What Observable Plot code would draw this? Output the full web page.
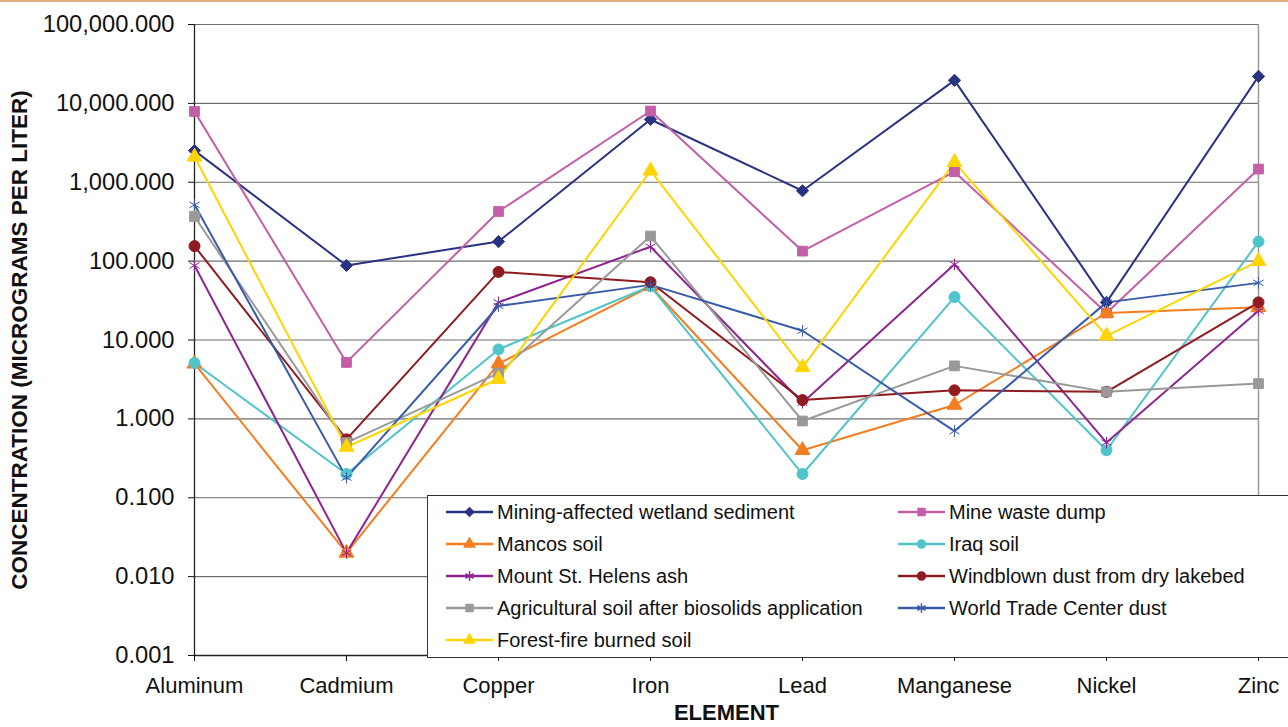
<!DOCTYPE html>
<html><head><meta charset="utf-8">
<script src="https://cdn.jsdelivr.net/npm/d3@7"></script>
<script src="https://cdn.jsdelivr.net/npm/@observablehq/plot@0.6"></script>
<style>
html,body{margin:0;padding:0;background:#fff;overflow:hidden;}
#wrap{position:relative;width:1288px;height:727px;font-family:"Liberation Sans",Arial,sans-serif;}
#bar{position:absolute;left:0;top:0;width:1288px;height:2px;background:#DFAA7E;}
#legend{position:absolute;left:427px;top:495px;width:900px;height:163px;border:1px solid #333;background:#fff;box-sizing:border-box;}
.item{position:absolute;height:32px;width:440px;}
.item svg{position:absolute;top:6px;}
.item span{position:absolute;top:0;line-height:32px;font-size:20px;white-space:nowrap;color:#111;}
</style></head><body>
<div id="wrap"><div id="chart"></div><div id="bar"></div><div id="legend"></div></div>
<script>
const elements = ["Aluminum","Cadmium","Copper","Iron","Lead","Manganese","Nickel","Zinc"];
const seriesNames = [
  "Mining-affected wetland sediment",
  "Mine waste dump",
  "Mancos soil",
  "Iraq soil",
  "Mount St. Helens ash",
  "Windblown dust from dry lakebed",
  "Agricultural soil after biosolids application",
  "World Trade Center dust",
  "Forest-fire burned soil"
];
const miningWetland    = [2520, 88, 177, 6250, 780, 19600, 30, 22000];
const mineWasteDump    = [7900, 5.2, 426, 8000, 134, 1360, 22, 1470];
const mancosSoil       = [5.0, 0.020, 5.0, 48, 0.40, 1.5, 22, 26];
const iraqSoil         = [5.1, 0.20, 7.6, 48, 0.20, 35, 0.40, 177];
const mountStHelensAsh = [88, 0.020, 30, 152, 1.6, 91, 0.50, 23.5];
const windblownDust    = [155, 0.55, 73, 54, 1.73, 2.3, 2.2, 30];
const agriculturalSoil = [368, 0.50, 3.8, 208, 0.94, 4.7, 2.2, 2.8];
const wtcDust          = [517, 0.18, 27, 50, 13.1, 0.70, 30, 53];
const forestFireSoil   = [2100, 0.44, 3.2, 1400, 4.5, 1790, 11.3, 100];
const yTicks = [0.001, 0.01, 0.1, 1, 10, 100, 1000, 10000, 100000];
const seriesColors = ["#2A3382","#C45EA6","#F47D20","#4FC4CA","#8E2590","#8F1A1F","#999999","#3A5BA8","#FFD400"];
const seriesSymbols = ["diamond2","square","triangle","circle","asterisk","circle","square","asterisk","triangle"];

const seriesValues = [miningWetland, mineWasteDump, mancosSoil, iraqSoil, mountStHelensAsh, windblownDust, agriculturalSoil, wtcDust, forestFireSoil];
const data = seriesNames.flatMap((s, i) => elements.map((e, j) => ({series: s, element: e, value: seriesValues[i][j]})));

const chart = Plot.plot({
  width: 1288, height: 727,
  marginLeft: 194, marginRight: 30, marginTop: 24, marginBottom: 72,
  style: {fontFamily: '"Liberation Sans", Arial, sans-serif', background: "#fff", color: "#111"},
  x: {type: "point", domain: elements, padding: 0},
  y: {type: "log", domain: [yTicks[0], yTicks[yTicks.length - 1]]},
  color: {domain: seriesNames, range: seriesColors},
  symbol: {domain: seriesNames, range: seriesSymbols},
  marks: [
    Plot.ruleY(yTicks, {stroke: "#6e6e6e", strokeWidth: 1.2}),
    Plot.ruleX([elements[elements.length - 1]], {stroke: "#9a9a9a", strokeWidth: 1.5}),
    Plot.ruleX([elements[0]], {stroke: "#222", strokeWidth: 1.3}),
    Plot.ruleY([yTicks[0]], {stroke: "#222", strokeWidth: 1.3}),
    Plot.axisY({ticks: yTicks, tickFormat: d3.format(",.3f"), tickSize: 6, tickPadding: 14, fontSize: 23.7, label: null}),
    Plot.axisY({ticks: [], label: "CONCENTRATION (MICROGRAMS PER LITER)", labelAnchor: "center", labelOffset: 183, labelArrow: "none", fontSize: 22.5, fontWeight: "bold"}),
    Plot.axisX({tickSize: 6, tickPadding: 16, fontSize: 22, label: null}),
    Plot.axisX({ticks: [], label: "ELEMENT", labelAnchor: "center", labelOffset: 64, labelArrow: "none", fontSize: 22, fontWeight: "bold"}),
    Plot.line(data, {x: "element", y: "value", z: "series", stroke: "series", strokeWidth: 2}),
    Plot.dot(data, {x: "element", y: "value", symbol: "series", fill: "series", stroke: "series", r: 5.5, strokeWidth: 1})
  ]
});
document.getElementById("chart").appendChild(chart);

// Legend
const symMap = {diamond2: d3.symbolDiamond2, square: d3.symbolSquare, triangle: d3.symbolTriangle, circle: d3.symbolCircle, asterisk: d3.symbolAsterisk};
const legend = d3.select("#legend");
seriesNames.forEach((name, i) => {
  const col = i % 2, row = Math.floor(i / 2);
  const item = legend.append("div").attr("class", "item")
    .style("left", (col ? 452 : 0) + "px").style("top", (row * 32) + "px");
  const svg = item.append("svg").attr("width", 50).attr("height", 20)
    .style("left", "18px");
  svg.append("line").attr("x1", 0).attr("x2", 47).attr("y1", 10).attr("y2", 10)
    .attr("stroke", seriesColors[i]).attr("stroke-width", 2.5);
  const s = seriesSymbols[i];
  svg.append("path").attr("transform", "translate(23.5,10)")
    .attr("d", d3.symbol(symMap[s], Math.PI * 4.5 * 4.5)())
    .attr("fill", s === "asterisk" ? "none" : seriesColors[i])
    .attr("stroke", seriesColors[i]).attr("stroke-width", s === "asterisk" ? 1.5 : 0.5);
  item.append("span").style("left", "69px").text(name);
});
</script>
</body></html>
